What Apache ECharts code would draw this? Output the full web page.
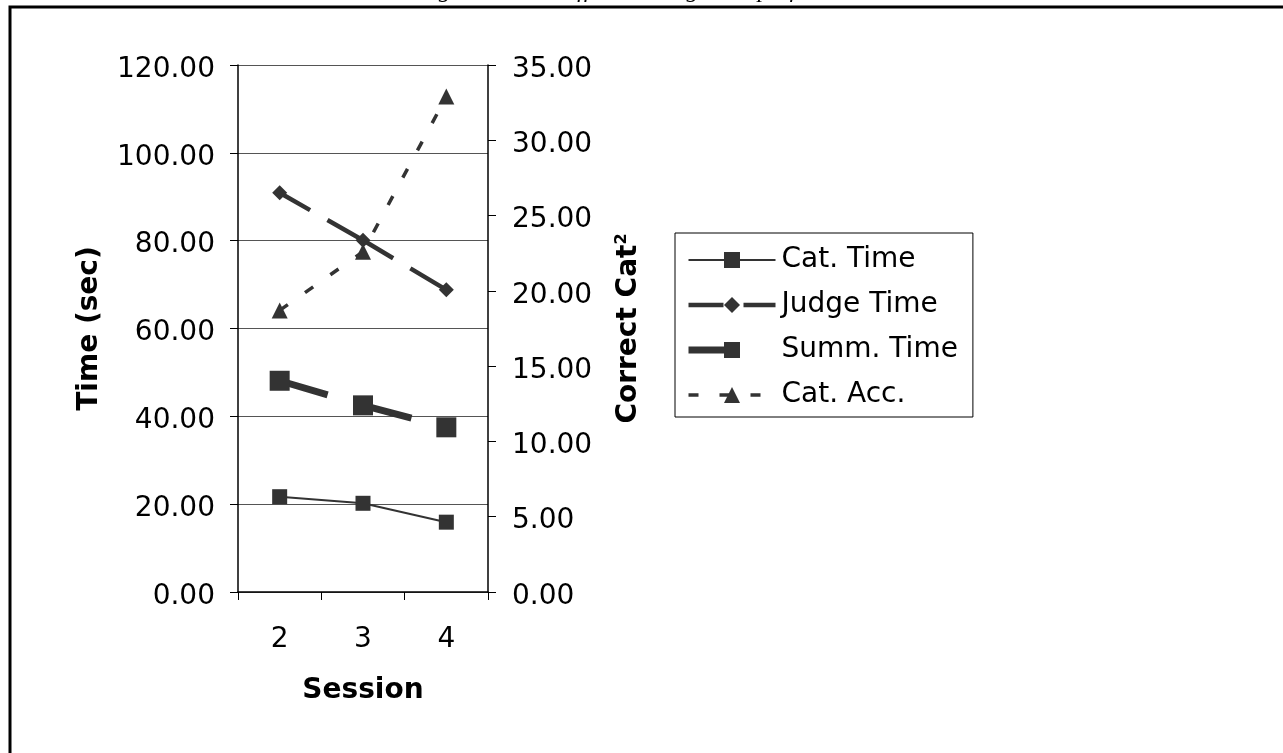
<!DOCTYPE html>
<html>
<head>
<meta charset="utf-8">
<script src="https://cdn.jsdelivr.net/npm/echarts@6/dist/echarts.min.js"></script>
<style>
html,body{margin:0;padding:0;background:#fff;}
#chart{width:1283px;height:753px;}
</style>
</head>
<body>
<div id="chart"></div>
<script>
const sessions = ['2', '3', '4'];
const catTime = [21.7, 20.2, 15.9];
const judgeTime = [90.9, 80.1, 68.8];
const summTime = [48.1, 42.5, 37.5];
const catAcc = [18.7, 22.6, 32.9];
const leftTicks = [0, 20, 40, 60, 80, 100, 120];
const rightTicks = [0, 5, 10, 15, 20, 25, 30, 35];

const chart = echarts.init(document.getElementById('chart'), null, {renderer: 'canvas'});
const dark = '#333333';
const font = '"DejaVu Sans", Verdana, sans-serif';
const fs = 28;
const tickRich = {v: {fontSize: fs, fontFamily: font, color: '#000', padding: [9, 0, 0, 0]}};

chart.setOption({
  animation: false,
  backgroundColor: '#fff',
  graphic: [
    {type: 'rect', shape: {x: 10, y: 7, width: 1300, height: 780}, style: {fill: 'none', stroke: '#000', lineWidth: 3}, z: -1},
    {type: 'text', x: 652, y: -9, style: {text: 'Figure 3: Time effects on cognitive performance.', fontStyle: 'italic', fontSize: 24, fontFamily: '"Liberation Serif", "DejaVu Serif", serif', fill: '#000', align: 'center', verticalAlign: 'middle'}}
  ],
  grid: {left: 238, right: 795, top: 65, bottom: 161, containLabel: false},
  legend: {
    orient: 'vertical',
    left: 675, top: 233,
    padding: [13, 15, 8, 10],
    itemWidth: 87, itemHeight: 20, itemGap: 17,
    borderColor: '#000', borderWidth: 1,
    lineStyle: {width: 'inherit'},
    textStyle: {fontSize: fs, lineHeight: 28, fontFamily: font, color: '#000', padding: [0, 0, 0, 1]},
    data: ['Cat. Time', 'Judge Time', 'Summ. Time', 'Cat. Acc.']
  },
  xAxis: {
    type: 'category',
    data: sessions,
    boundaryGap: true,
    name: 'Session',
    nameLocation: 'middle',
    nameGap: 85,
    nameTextStyle: {fontSize: fs, fontWeight: 'bold', fontFamily: font, color: '#000'},
    axisLine: {lineStyle: {color: '#000', width: 1.5}},
    axisTick: {show: true, length: 8, lineStyle: {color: '#000'}},
    axisLabel: {fontSize: fs, fontFamily: font, color: '#000', margin: 34}
  },
  yAxis: [
    {
      type: 'value', min: 0, max: 120, interval: 20,
      position: 'left',
      name: 'Time (sec)',
      nameLocation: 'middle', nameGap: 134, nameRotate: 90,
      nameTextStyle: {fontSize: fs, fontWeight: 'bold', fontFamily: font, color: '#000'},
      axisLine: {show: true, lineStyle: {color: '#000', width: 1.5}},
      axisTick: {show: true, length: 8, lineStyle: {color: '#000'}},
      axisLabel: {margin: 23, rich: tickRich,
        formatter: v => leftTicks.includes(v) ? '{v|' + v.toFixed(2) + '}' : ''},
      splitLine: {show: true, lineStyle: {color: '#555', width: 1}}
    },
    {
      type: 'value', min: 0, max: 35, interval: 5,
      position: 'right',
      name: 'Correct Cat{sup|2}',
      nameLocation: 'middle', nameGap: 126, nameRotate: 90,
      nameTextStyle: {fontSize: fs, fontWeight: 'bold', fontFamily: font, color: '#000',
        rich: {sup: {fontSize: 16, fontWeight: 'bold', fontFamily: font, color: '#000', verticalAlign: 'top', padding: [0, 0, 14, 0]}}},
      axisLine: {show: true, lineStyle: {color: '#000', width: 1.5}},
      axisTick: {show: true, length: 8, lineStyle: {color: '#000'}},
      axisLabel: {margin: 24, rich: tickRich,
        formatter: v => rightTicks.includes(v) ? '{v|' + v.toFixed(2) + '}' : ''},
      splitLine: {show: false}
    }
  ],
  series: [
    {
      name: 'Cat. Time', type: 'line', yAxisIndex: 0, data: catTime,
      symbol: 'rect', symbolSize: 15,
      lineStyle: {color: dark, width: 2},
      itemStyle: {color: dark}
    },
    {
      name: 'Judge Time', type: 'line', yAxisIndex: 0, data: judgeTime,
      symbol: 'diamond', symbolSize: 15,
      lineStyle: {color: dark, width: 4.5, type: [35, 20, 41, 0]},
      itemStyle: {color: dark}
    },
    {
      name: 'Summ. Time', type: 'line', yAxisIndex: 0, data: summTime,
      symbol: 'rect', symbolSize: 20,
      lineStyle: {color: dark, width: 7, type: [50, 37]},
      itemStyle: {color: dark}
    },
    {
      name: 'Cat. Acc.', type: 'line', yAxisIndex: 1, data: catAcc,
      symbol: 'triangle', symbolSize: 16,
      lineStyle: {color: dark, width: 3.5, type: [10, 21]},
      itemStyle: {color: dark}
    }
  ]
});
</script>
</body>
</html>
